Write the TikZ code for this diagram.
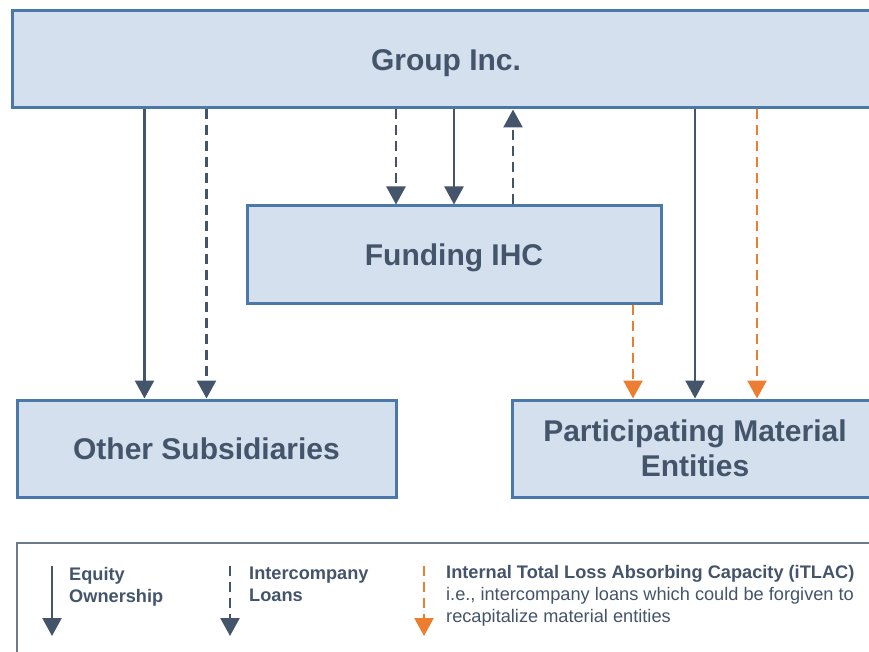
\documentclass[tikz,border=0pt]{standalone}
\usepackage{fontspec}
\setmainfont{Liberation Sans}
\usetikzlibrary{arrows.meta,positioning}

\definecolor{boxfill}{HTML}{D5E0EE}
\definecolor{boxline}{HTML}{4A78A8}
\definecolor{slate}{HTML}{44546A}
\definecolor{itlac}{HTML}{ED7D31}
\definecolor{legline}{HTML}{6E7B8E}

\tikzset{
  entity/.style={draw=boxline, line width=3pt, fill=boxfill, text=slate,
    font=\fontsize{30}{35}\selectfont\bfseries, minimum height=97pt,
    align=center, inner sep=0pt, text depth=0pt},
  equity/.style={draw=slate, line width=2.5pt, -{Triangle[width=19pt,length=18pt]}},
  loan/.style={equity, dash pattern=on 10pt off 6pt},
  tlac/.style={loan, draw=itlac},
  legtext/.style={text=slate, font=\fontsize{18.2}{22}\selectfont,
    align=left, anchor=north west, inner sep=0pt}
}

\begin{document}
\begin{tikzpicture}[x=1pt,y=-1pt]
  \useasboundingbox (0,0) rectangle (869,652);
  \clip (0,0) rectangle (869,652);

  % Entities
  \node[entity, minimum width=868pt] (group) at (446,59.5) {\raisebox{-2pt}{Group Inc.}};
  \node[entity, minimum width=414pt] (ihc) at (454,254.5) {Funding IHC};
  \node[entity, minimum width=379pt] (other) at (206.5,448.5) {Other Subsidiaries};
  \node[entity, minimum width=366pt, text depth=-5pt] (pme) at (695,448.5) {Participating Material\\Entities};

  % Group Inc. -> Other Subsidiaries
  \draw[equity] ([xshift=-62pt]other.north |- group.south) -- ([xshift=-62pt]other.north);
  \draw[loan] (other.north |- group.south) -- (other.north);

  % Group Inc. <-> Funding IHC
  \draw[loan] ([xshift=-58pt]ihc.north |- group.south) -- ([xshift=-58pt]ihc.north);
  \draw[equity] (ihc.north |- group.south) -- (ihc.north);
  \draw[loan] ([xshift=59pt]ihc.north) -- ([xshift=59pt]ihc.north |- group.south);

  % to Participating Material Entities
  \draw[tlac] ([xshift=-62pt]pme.north |- ihc.south) -- ([xshift=-62pt]pme.north);
  \draw[equity] (pme.north |- group.south) -- (pme.north);
  \draw[tlac] ([xshift=62pt]pme.north |- group.south) -- ([xshift=62pt]pme.north);

  % Legend
  \draw[legline, line width=1.5pt] (17,543) rectangle (900,720);
  \coordinate (eqtop) at (52,566);
  \coordinate (eqbot) at (52,636);
  \coordinate (lntop) at (230,566);
  \coordinate (lnbot) at (230,636);
  \coordinate (tltop) at (424,566);
  \coordinate (tlbot) at (424,636);
  \draw[equity] (eqtop) -- (eqbot);
  \draw[loan] (lntop) -- (lnbot);
  \draw[tlac] (tltop) -- (tlbot);
  \node[legtext] (eqlabel) at (69,567) {\bfseries Equity\\\bfseries Ownership};
  \node[legtext] (lnlabel) at (249,567) {\bfseries Intercompany\\\bfseries Loans};
  \node[legtext] (tllabel) at (446,565) {\bfseries Internal Total Loss Absorbing Capacity (iTLAC)\\
    i.e., intercompany loans which could be forgiven to\\recapitalize material entities};
\end{tikzpicture}
\end{document}
